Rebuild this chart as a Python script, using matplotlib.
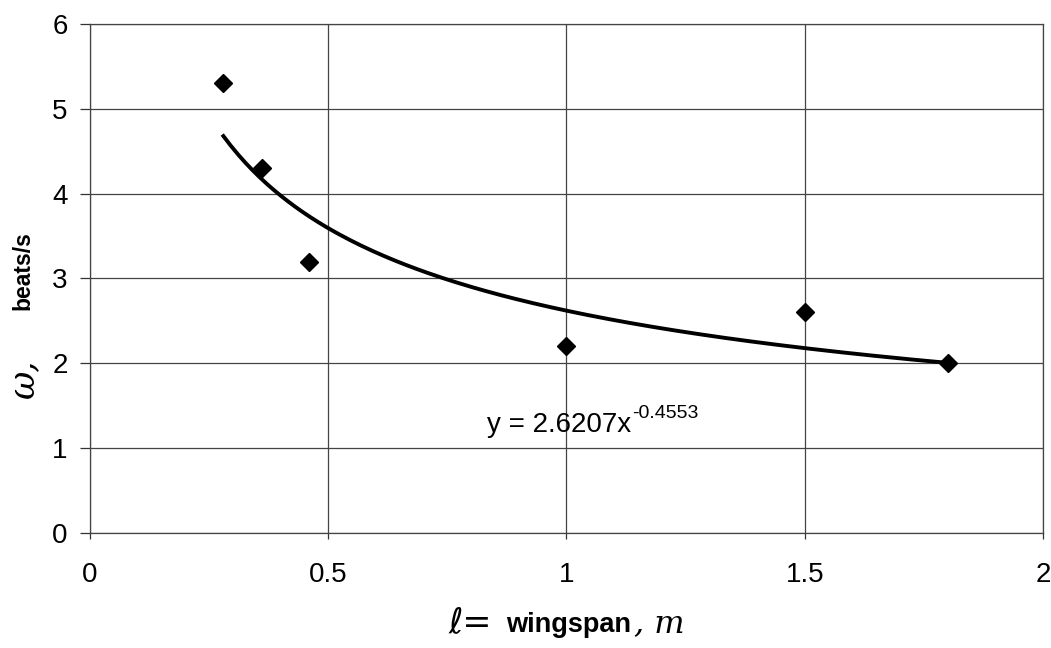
import numpy as np
import matplotlib
matplotlib.use("Agg")
import matplotlib.pyplot as plt

plt.rcParams['font.family'] = ['Liberation Sans', 'DejaVu Sans']

wingspan = [0.28, 0.36, 0.46, 1.0, 1.5, 1.8]
beats = [5.3, 4.3, 3.2, 2.2, 2.6, 2.0]
coef_a = 2.6207
coef_b = -0.4553
x_ticks = [0, 0.5, 1, 1.5, 2]
x_tick_labels = ['0', '0.5', '1', '1.5', '2']
y_ticks = [0, 1, 2, 3, 4, 5, 6]

fig = plt.figure(figsize=(10.51, 6.48), dpi=100)
ax = fig.add_axes([0.0856, 0.1775, 0.9068, 0.7855])

xf = np.linspace(min(wingspan), max(wingspan), 200)
ax.plot(xf, coef_a * xf ** coef_b, color='black', lw=2.8, zorder=3)
ax.plot(wingspan, beats, linestyle='none', marker='D', color='black', markersize=9, zorder=4)

ax.set_xlim(0, 2)
ax.set_ylim(0, 6)
ax.set_xticks(x_ticks)
ax.set_xticklabels(x_tick_labels)
ax.set_yticks(y_ticks)
ax.grid(True, color='#444444', lw=0.9)
ax.set_axisbelow(True)
for s in ax.spines.values():
    s.set_color('#444444')
    s.set_linewidth(0.9)
ax.tick_params(axis='both', labelsize=20, color='#333333', width=0.9)
ax.tick_params(axis='x', pad=17, length=4)
ax.tick_params(axis='y', pad=9, length=7)

eq_y = 1.19
t_eq = ax.text(0.833, eq_y, 'y = 2.6207x', fontsize=20, ha='left', va='baseline')
ax.annotate('-0.4553', xy=(1.0, eq_y), xycoords=(t_eq, 'data'), xytext=(0.5, 10),
            textcoords='offset points', fontsize=14, ha='left', va='baseline')

# axis labels (handwritten parts approximated with italic text)
fig.text(0.022, 0.415, 'ω,', fontsize=25, rotation=90, ha='center', va='center',
         family=['DejaVu Serif', 'DejaVu Sans'], style='italic')
fig.text(0.022, 0.583, 'beats/s', fontsize=16.5, rotation=90, ha='center', va='center',
         fontweight='bold')

fig.text(0.447, 0.025, 'ℓ=', fontsize=25, ha='center', va='baseline',
         family=['DejaVu Sans'], style='italic')
fig.text(0.541, 0.025, 'wingspan', fontsize=19.5, ha='center', va='baseline', fontweight='bold')
fig.text(0.627, 0.025, ', m', fontsize=23, ha='center', va='baseline',
         family=['DejaVu Serif', 'DejaVu Sans'], style='italic')

fig.savefig('out.png', dpi=100, facecolor='white')
